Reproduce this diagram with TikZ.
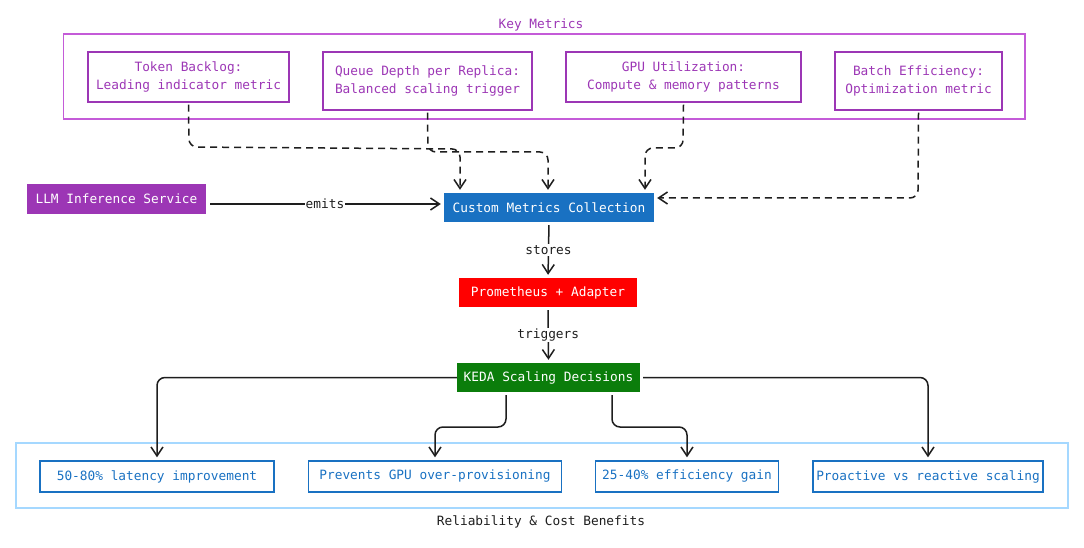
\documentclass[tikz,border=0pt]{standalone}
\usepackage{fontspec}
\setmonofont{DejaVu Sans Mono}
\usetikzlibrary{arrows.meta}
\definecolor{kpurple}{HTML}{9C36B5}
\definecolor{kpurpleL}{HTML}{C45BD8}
\definecolor{kblue}{HTML}{1971C2}
\definecolor{kblueL}{HTML}{A5D8FF}
\definecolor{kred}{HTML}{FF0000}
\definecolor{kgreen}{HTML}{0B7D0B}
\definecolor{kink}{HTML}{1E1E1E}
\tikzset{
  txt/.style={font=\ttfamily\fontsize{12.8}{18}\selectfont, align=center},
  metricbox/.style={txt, draw=kpurple, line width=1.4pt, text=kpurple, inner sep=0pt},
  filledbox/.style={txt, text=white, inner sep=0pt},
  benefitbox/.style={txt, draw=kblue, line width=1.4pt, text=kblue, inner sep=0pt},
  arr/.style={draw=kink, line width=1.5pt, -{Straight Barb[length=9pt,width=12pt]}, shorten >=3pt},
  darr/.style={arr, dash pattern=on 7pt off 5pt, rounded corners=8pt},
  sarr/.style={arr, rounded corners=8pt},
  lbl/.style={txt, text=kink, fill=white, inner sep=1pt},
}
\begin{document}
\begin{tikzpicture}[x=1pt,y=-1pt]
\useasboundingbox (0,0) rectangle (1084,548);
% Key metrics group
\node[draw=kpurpleL, line width=1.4pt, minimum width=961.5pt, minimum height=85pt, inner sep=0pt] (kmgroup) at (544.25,76.5) {};
\node[txt, text=kpurple] (kmtitle) at (541,25) {Key Metrics};
\node[metricbox, minimum width=201pt, minimum height=50pt] (tok) at (188.5,77) {Token Backlog:\\Leading indicator metric};
\node[metricbox, minimum width=209pt, minimum height=58pt] (que) at (427.5,81) {Queue Depth per Replica:\\Balanced scaling trigger};
\node[metricbox, minimum width=235pt, minimum height=50pt] (gpu) at (683.5,77) {GPU Utilization:\\Compute \& memory patterns};
\node[metricbox, minimum width=167pt, minimum height=58pt] (bat) at (918.5,81) {Batch Efficiency:\\Optimization metric};
% main flow
\node[filledbox, fill=kpurple, minimum width=179pt, minimum height=30pt] (llm) at (116.5,199) {LLM Inference Service};
\node[filledbox, fill=kblue, minimum width=210pt, minimum height=29pt] (cmc) at (549,207.5) {Custom Metrics Collection};
\node[filledbox, fill=kred, minimum width=178pt, minimum height=29pt] (prom) at (548,292.5) {Prometheus + Adapter};
\node[filledbox, fill=kgreen, minimum width=183pt, minimum height=29pt] (keda) at (548.5,377.5) {KEDA Scaling Decisions};
% benefits group
\node[draw=kblueL, line width=1.4pt, minimum width=1052pt, minimum height=65pt, inner sep=0pt] (bgroup) at (542,475.5) {};
\node[txt, text=kink] (btitle) at (541,522) {Reliability \& Cost Benefits};
\node[benefitbox, minimum width=234pt, minimum height=31pt] (b1) at (157,476.5) {50-80\% latency improvement};
\node[benefitbox, minimum width=253pt, minimum height=31pt] (b2) at (435,476.5) {Prevents GPU over-provisioning};
\node[benefitbox, minimum width=183pt, minimum height=31pt] (b3) at (687,476.5) {25-40\% efficiency gain};
\node[benefitbox, minimum width=230pt, minimum height=31pt] (b4) at (928,476.5) {Proactive vs reactive scaling};
% coordinates for dashed routes
\coordinate (tokA) at (189,147);
\coordinate (tokB) at (460,149);
\coordinate (queA) at (428,152);
\coordinate (queB) at (548,152);
\coordinate (gpuA) at (683,148);
\coordinate (gpuB) at (645,148);
\coordinate (batA) at (918,198);
% dashed metric arrows
\draw[darr] ([yshift=-2pt]tok.south) -- (tokA) -- (tokB) -- (tokB |- cmc.north);
\draw[darr] ([yshift=-2pt]que.south) -- (queA) -- (queB) -- (queB |- cmc.north);
\draw[darr] ([yshift=-2pt]gpu.south) -- (gpuA) -- (gpuB) -- (gpuB |- cmc.north);
\draw[darr] ([yshift=-2pt]bat.south) -- (batA) -- ([yshift=9.5pt]cmc.east);
% main flow arrows
\draw[arr, shorten <=4pt] ([yshift=-5pt]llm.east) -- node[lbl, pos=0.5] {emits} ([yshift=3.5pt]cmc.west);
\draw[arr, shorten <=3pt] (cmc.south) -- node[lbl, pos=0.5] {stores} (prom.north);
\draw[arr, shorten <=3pt] (prom.south) -- node[lbl, pos=0.5] {triggers} (keda.north);
% KEDA to benefits
\coordinate (k2) at (470,427);
\coordinate (k3) at (650,427);
\draw[sarr] (keda.west) -| (b1.north);
\draw[sarr, shorten <=3pt] ([xshift=-42.5pt]keda.south) |- (k2) -| (b2.north);
\draw[sarr, shorten <=3pt] ([xshift=63.5pt]keda.south) |- (k3) -| (b3.north);
\draw[sarr, shorten <=3pt] (keda.east) -| (b4.north);
\end{tikzpicture}
\end{document}
